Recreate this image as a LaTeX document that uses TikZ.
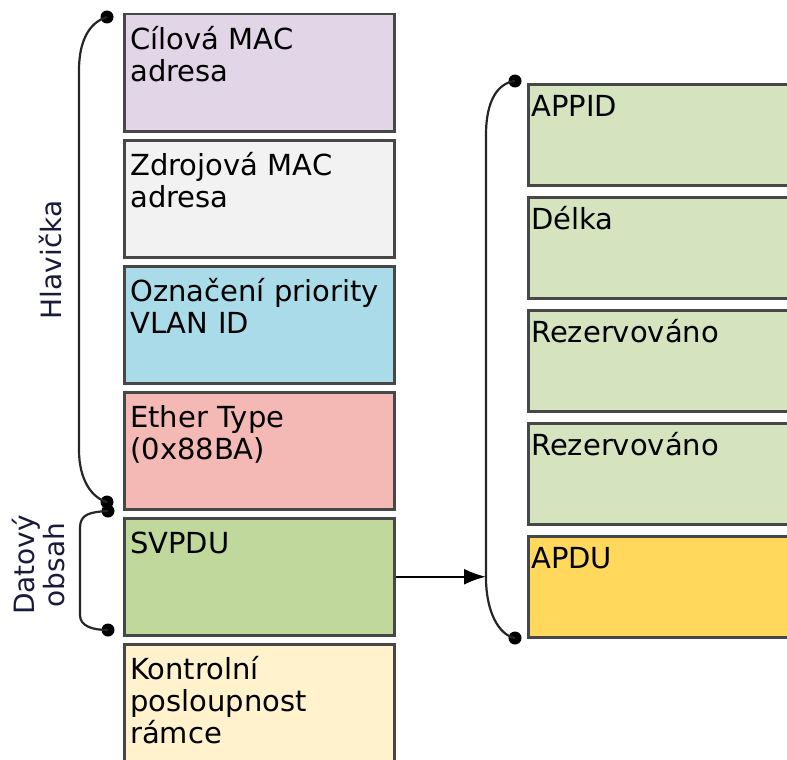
\documentclass[tikz,border=0pt]{standalone}
\usepackage{fontspec}
\setmainfont{DejaVu Sans}
\usetikzlibrary{arrows.meta}
\usetikzlibrary{positioning}
\definecolor{cDst}{HTML}{E1D5E7}
\definecolor{cSrc}{HTML}{F2F2F2}
\definecolor{cVlan}{HTML}{A9DCE8}
\definecolor{cType}{HTML}{F4B9B5}
\definecolor{cSv}{HTML}{C0D89C}
\definecolor{cFcs}{HTML}{FFF2CC}
\definecolor{cSub}{HTML}{D5E3BF}
\definecolor{cApdu}{HTML}{FFD85C}
\definecolor{cLbl}{HTML}{1A1A3A}
\tikzstyle{field}=[draw=black!72,line width=2.5pt,anchor=north west,align=left,
  minimum width=270pt,text width=258pt,inner xsep=6pt,inner ysep=8pt,text height=27pt,text depth=74pt,
  font=\fontsize{29}{32}\selectfont]
\tikzstyle{subfield}=[field,minimum width=270pt,text width=264pt,inner xsep=3pt,
  text height=24pt,text depth=61pt]
\tikzstyle{brace}=[line width=2.2pt,black!85]
\tikzstyle{dot}=[fill=black,circle,inner sep=0pt,minimum size=13pt]
\begin{document}
\begin{tikzpicture}[x=1pt,y=-1pt]
\useasboundingbox (0,0) rectangle (787,760);
% frame fields
\node [field,fill=cDst] (dst) at (123,13) {Cílová MAC\\adresa};
\node [field,fill=cSrc] (src) at (123,139) {Zdrojová MAC\\adresa};
\node [field,fill=cVlan] (vlan) at (123,265) {Označení priority\\VLAN ID};
\node [field,fill=cType] (etype) at (123,391) {Ether Type\\(0x88BA)};
\node [field,fill=cSv] (svpdu) at (123,517) {SVPDU};
\node [field,fill=cFcs] (fcs) at (123,643) {Kontrolní\\posloupnost\\rámce};
% SVPDU fields
\node [subfield,fill=cSub] (appid) at (527,83) {APPID};
\node [subfield,fill=cSub] (len) at (527,196) {Délka};
\node [subfield,fill=cSub] (res1) at (527,309) {Rezervováno};
\node [subfield,fill=cSub] (res2) at (527,422) {Rezervováno};
\node [subfield,fill=cApdu] (apdu) at (527,535) {APDU};
% braces
\node [dot] (h1) at (107,17) {};
\node [dot] (h2) at (107,502) {};
\node [dot] (d1) at (108,511) {};
\node [dot] (d2) at (108,630) {};
\node [dot] (s1) at (515,81) {};
\node [dot] (s2) at (515,638) {};
\coordinate (hit) at (486,578);
\draw[brace] (h1.center) .. controls (90,22) and (79,40) .. (79,70) -- (79,450)
  .. controls (79,480) and (92,498) .. (h2.center);
\draw[brace] (d1.center) .. controls (90,512) and (80,514) .. (80,528) -- (80,615)
  .. controls (80,626) and (92,630) .. (d2.center);
\draw[brace] (s1.center) .. controls (498,83) and (486,100) .. (486,135) -- (hit)
  .. controls (486,610) and (498,635) .. (s2.center);
\draw[-{Latex[length=22pt,width=16pt]},line width=2.2pt] (svpdu.east) -- (svpdu.east -| hit);
% labels
\node [rotate=90,font=\fontsize{28}{30}\selectfont,text=cLbl] (head) at (51,260) {Hlavička};
\node [rotate=90,align=center,font=\fontsize{28}{30}\selectfont,text=cLbl] (data) at (38,565) {Datový\\obsah};
\end{tikzpicture}
\end{document}
